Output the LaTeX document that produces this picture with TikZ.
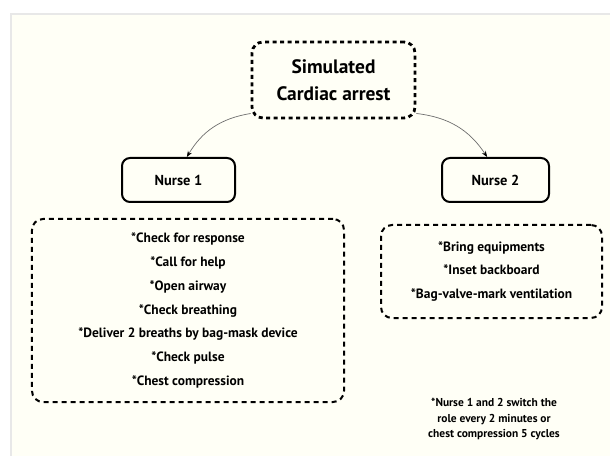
\documentclass[tikz,border=0pt]{standalone}
\usepackage{fontspec}
\setmainfont{PT Sans}
\usetikzlibrary{arrows.meta}
\definecolor{panel}{RGB}{255,255,246}
\definecolor{paneledge}{RGB}{232,232,232}
\definecolor{linkgray}{RGB}{110,110,110}
\tikzset{
    dotbox/.style={draw,line width=2.8bp,dash pattern=on 4bp off 3.5bp,rounded corners=11bp,align=center,inner sep=0pt},
    taskbox/.style={draw,line width=2bp,dash pattern=on 5bp off 4bp,rounded corners=11bp,align=center,inner sep=0pt},
    nursebox/.style={draw,line width=2bp,rounded corners=8bp,inner sep=0pt,minimum height=44bp},
    link/.style={linkgray,line width=0.7bp,-{Stealth[black,length=6bp,width=4.5bp]}}
}
\begin{document}
\begin{tikzpicture}[x=1bp,y=-1bp]
    \useasboundingbox (0,0) rectangle (610,456);
    \fill[white] (0,0) rectangle (610,456);
    \fill[paneledge] (10,13) rectangle (612,458);
    \fill[panel] (12,15) rectangle (612,458);

    \node[dotbox,minimum width=163bp,minimum height=76bp,font=\fontsize{19.5}{27}\selectfont\bfseries] (arrest) at (333.5,80) {Simulated\\Cardiac arrest};

    \node[nursebox,minimum width=113bp,font=\fontsize{14.5}{16}\selectfont\bfseries] (n1) at (178.5,180) {Nurse 1};
    \node[nursebox,minimum width=107bp,font=\fontsize{14.5}{16}\selectfont\bfseries] (n2) at (495.5,180) {Nurse 2};

    \node[taskbox,minimum width=312bp,minimum height=183bp,font=\fontsize{13.5}{24}\selectfont\bfseries] (t1) at (188,310.5) {*Check for response\\*Call for help\\*Open airway\\*Check breathing\\*Deliver 2 breaths by bag-mask device\\*Check pulse\\*Chest compression};
    \node[taskbox,minimum width=221bp,minimum height=93bp,font=\fontsize{13.5}{24}\selectfont\bfseries] (t2) at (491.5,271.5) {*Bring equipments\\*Inset backboard\\*Bag-valve-mark ventilation};

    \node[align=center,font=\fontsize{11.5}{16}\selectfont\bfseries] (note) at (494,419) {*Nurse 1 and 2 switch the\\role every 2 minutes or\\chest compression 5 cycles};

    \draw[link] (arrest.202) to[bend right=25] (n1.70);
    \draw[link] (arrest.-22) to[bend left=25] (n2.110);
\end{tikzpicture}
\end{document}
